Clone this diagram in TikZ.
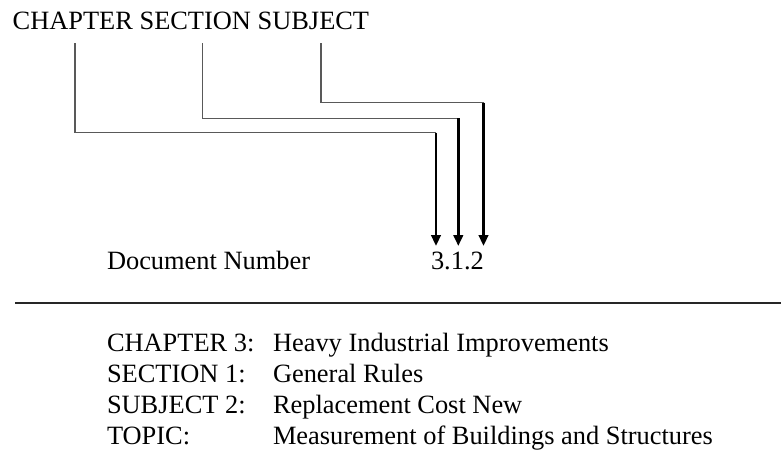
\documentclass[tikz,border=0pt]{standalone}
\usepackage{fontspec}
\setmainfont{Liberation Serif}
\usetikzlibrary{arrows.meta}
\begin{document}
\begin{tikzpicture}[x=1pt,y=-1pt,
  txt/.style={anchor=base west,inner sep=0pt,outer sep=0pt,font=\fontsize{26.4}{30}\selectfont},
  thinline/.style={draw=black!65,line width=1.1pt},
  thickarrow/.style={draw=black,line width=2.6pt,-{Triangle[length=11pt,width=9.5pt]}},
  rule/.style={draw=black!85,line width=1.3pt}]
\useasboundingbox (0,0) rectangle (781,469);
% title
\node[txt] (title) at (12.7,29.5) {CHAPTER SECTION SUBJECT};
% connector points
\coordinate (s1) at (75,43.3);
\coordinate (s2) at (202.7,43.3);
\coordinate (s3) at (321,43.3);
\coordinate (c1) at (436,132.7);
\coordinate (c2) at (458.3,118.3);
\coordinate (c3) at (483.5,102.7);
\coordinate (t1) at (436,246);
\coordinate (t2) at (458.3,246);
\coordinate (t3) at (483.5,246);
\draw[thinline] (s1) |- (c1);
\draw[thinline] (s2) |- (c2);
\draw[thinline] (s3) |- (c3);
\draw[thickarrow] (c1) -- (t1);
\draw[thickarrow] (c2) -- (t2);
\draw[thickarrow] (c3) -- (t3);
% document number
\node[txt] (docnum) at (107,269) {Document Number};
\node[txt] (num) at (431,269) {3.1.2};
\coordinate (rl) at (15,303);
\coordinate (rr) at (781,303);
\draw[rule] (rl) -- (rr);
% rows
\node[txt] (l1) at (107,351) {CHAPTER 3:};
\node[txt] (r1) at (273,351) {Heavy Industrial Improvements};
\node[txt] (l2) at (107,382) {SECTION 1:};
\node[txt] (r2) at (273,382) {General Rules};
\node[txt] (l3) at (107,413) {SUBJECT 2:};
\node[txt] (r3) at (273,413) {Replacement Cost New};
\node[txt] (l4) at (107,444) {TOPIC:};
\node[txt] (r4) at (273,444) {Measurement of Buildings and Structures};
\end{tikzpicture}
\end{document}
